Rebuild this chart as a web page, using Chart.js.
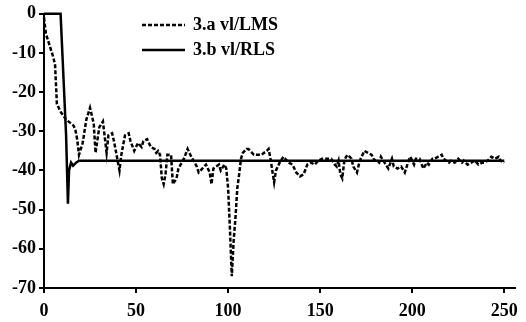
<!DOCTYPE html>
<html>
<head>
<meta charset="utf-8">
<script src="https://cdn.jsdelivr.net/npm/chart.js@4/dist/chart.umd.min.js"></script>
<style>
    body { margin: 0; background: #fff; }
    #wrap { position: relative; width: 526px; height: 322px; }
    .leg { position: absolute; left: 142px; font: bold 18px "Liberation Serif", serif; color: #000; display: flex; align-items: center; }
    .leg svg { margin-right: 8px; }
</style>
</head>
<body>
<div id="wrap">
    <canvas id="chart" width="526" height="322"></canvas>
    <div class="leg" style="top: 14px;">
        <svg width="43" height="6"><line x1="0" y1="3" x2="43" y2="3" stroke="#000" stroke-width="2.5" stroke-dasharray="4 2"/></svg>
        <span>3.a vl/LMS</span>
    </div>
    <div class="leg" style="top: 39px;">
        <svg width="43" height="6"><line x1="0" y1="3" x2="43" y2="3" stroke="#000" stroke-width="2.5"/></svg>
        <span>3.b vl/RLS</span>
    </div>
</div>
<script>
// curve 3.a vl/LMS
const lmsT = [0, 1, 3, 5, 6, 7, 9, 12, 16, 17, 18, 19, 21, 23, 25, 27, 28, 30, 32, 34, 35, 37, 38, 41, 42, 44, 46, 47, 49, 51,
    53, 54, 56, 58, 60, 61, 62, 63, 64, 65, 66, 67, 69, 70, 72, 73, 76, 78, 80, 83, 84, 86, 88, 90, 91, 92, 95, 96, 98, 99,
    100, 101, 102, 103, 104, 105, 106, 107, 108, 110, 111, 114, 118, 121, 122, 123, 125, 126, 128, 130, 131, 133, 135, 137, 139, 141, 143, 145, 147, 149,
    151, 154, 156, 158, 159, 160, 161, 162, 163, 164, 165, 167, 168, 170, 171, 172, 174, 176, 178, 179, 180, 182, 183, 185, 187, 189, 190, 192, 194, 196,
    198, 199, 201, 202, 204, 206, 208, 209, 211, 212, 214, 216, 217, 220, 221, 223, 225, 227, 228, 230, 232, 234, 236, 238, 239, 241, 243, 245, 247, 248, 250];
const lmsV = [-1, -5, -8, -11, -13, -23, -25, -27, -28.5, -29.5, -32, -36, -33, -27, -24, -28, -35.5, -29, -27.5, -35.5, -31, -30.5, -32.5, -40, -36, -31, -30.5, -32.5, -35, -33,
    -34, -32.5, -32, -34, -34.5, -35.5, -35, -36, -42, -43.5, -41, -36, -36, -43.5, -42, -39.5, -37, -34.5, -36.5, -39, -40.5, -39.5, -38.5, -40.5, -43.5, -39.5, -38.5, -40, -38.5, -39.5,
    -44.5, -55, -67, -58, -52, -44.5, -41, -37, -35.5, -34.5, -34.5, -36, -36, -35, -34.5, -37, -43, -40, -38, -36.5, -37, -38, -38.5, -40.5, -41.5, -41, -38.5, -38, -38.5, -37.5,
    -37, -37, -37, -38.5, -39, -37.5, -41, -42, -38, -36.5, -36, -37, -39, -40.5, -38.5, -37, -35, -35.5, -36, -37, -37.5, -38, -36.5, -38, -39.5, -37, -39, -39.5, -39, -40.5,
    -37.5, -36.5, -38.5, -37, -37, -39.5, -38, -38.5, -37, -37, -36.5, -36, -37, -38, -37.5, -38, -37, -38, -37.5, -38.5, -38, -37.5, -38.5, -38, -38, -37.5, -36.5, -37, -36.5, -37.5, -38];

// curve 3.b vl/RLS
const rlsT = [0, 9, 12, 13, 13.6, 14.7, 15.8, 17.4, 19, 250];
const rlsV = [0, 0, -31, -48.5, -40, -38, -38.8, -38, -37.5, -37.5];

const xTicks = [0, 50, 100, 150, 200, 250];

const toPts = (t, v) => t.map((x, i) => ({ x: x, y: v[i] }));
const tickFont = { family: 'Liberation Serif', size: 18, weight: 'bold' };

new Chart(document.getElementById('chart').getContext('2d'), {
    type: 'line',
    data: {
        datasets: [
            {
                label: '3.a vl/LMS',
                data: toPts(lmsT, lmsV),
                borderColor: '#000',
                borderWidth: 2.5,
                borderDash: [4, 2],
                pointRadius: 0,
                tension: 0,
                clip: false
            },
            {
                label: '3.b vl/RLS',
                data: toPts(rlsT, rlsV),
                borderColor: '#000',
                borderWidth: 2.5,
                pointRadius: 0,
                tension: 0,
                clip: false
            }
        ]
    },
    options: {
        responsive: false,
        animation: false,
        layout: { padding: { top: 12, right: 10, left: 0, bottom: 0 } },
        plugins: { legend: { display: false }, tooltip: { enabled: false } },
        scales: {
            x: {
                type: 'linear',
                min: 0,
                max: 256,
                afterBuildTicks: (s) => { s.ticks = xTicks.map(v => ({ value: v })); },
                afterFit: (s) => { s.height = 34; },
                border: { color: '#000', width: 2 },
                grid: { drawOnChartArea: false, color: '#000', lineWidth: 2, tickLength: 5 },
                ticks: { color: '#000', font: tickFont, padding: 8, maxRotation: 0 }
            },
            y: {
                min: -70,
                max: 0,
                ticks: { stepSize: 10, color: '#000', font: tickFont, padding: 3 },
                afterFit: (s) => { s.width = 44; },
                border: { color: '#000', width: 2 },
                grid: { drawOnChartArea: false, color: '#000', lineWidth: 2, tickLength: 5 }
            }
        }
    }
});
</script>
</body>
</html>
